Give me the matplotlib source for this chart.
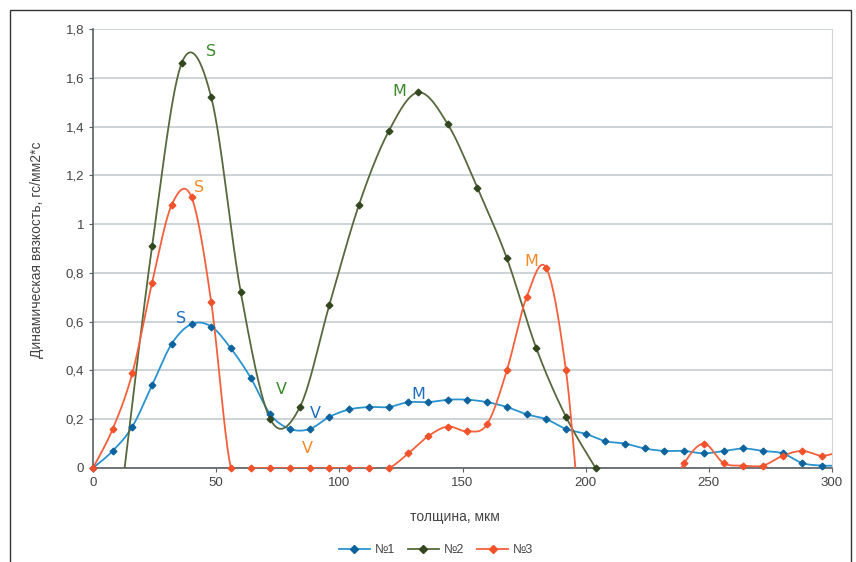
import numpy as np
import matplotlib
matplotlib.use("Agg")
import matplotlib.pyplot as plt
from matplotlib.lines import Line2D
from matplotlib.patches import Rectangle

plt.rcParams['font.family'] = ['Liberation Sans', 'DejaVu Sans']

# ---- data ----
x1 = [0, 8, 16, 24, 32, 40, 48, 56, 64, 72, 80, 88, 96, 104, 112, 120, 128, 136, 144,
      152, 160, 168, 176, 184, 192, 200, 208, 216, 224, 232, 240, 248, 256, 264, 272,
      280, 288, 296, 304]
y1 = [0, 0.07, 0.17, 0.34, 0.51, 0.59, 0.58, 0.49, 0.37, 0.22, 0.16, 0.16, 0.21, 0.24,
      0.25, 0.25, 0.27, 0.27, 0.28, 0.28, 0.27, 0.25, 0.22, 0.20, 0.16, 0.14, 0.11, 0.10,
      0.08, 0.07, 0.07, 0.06, 0.07, 0.08, 0.07, 0.06, 0.02, 0.01, 0.01]

x2 = [12, 24, 36, 48, 60, 72, 84, 96, 108, 120, 132, 144, 156, 168, 180, 192, 204]
y2 = [-0.07, 0.91, 1.66, 1.52, 0.72, 0.20, 0.25, 0.67, 1.08, 1.38, 1.54, 1.41, 1.15,
      0.86, 0.49, 0.21, 0]

x3 = [0, 8, 16, 24, 32, 40, 48, 56, 64, 72, 80, 88, 96, 104, 112, 120, 128, 136, 144,
      152, 160, 168, 176, 184, 192, 200, 208, 216, 224, 232, 240, 248, 256, 264, 272,
      280, 288, 296, 304]
y3 = [0, 0.16, 0.39, 0.76, 1.08, 1.11, 0.68, 0, 0, 0, 0, 0, 0, 0, 0, 0, 0.06, 0.13,
      0.17, 0.15, 0.18, 0.40, 0.70, 0.82, 0.40, -0.38, -0.30, -0.30, -0.30, -0.14, 0.02,
      0.10, 0.02, 0.01, 0.01, 0.05, 0.07, 0.05, 0.07]

series_names = ['№1', '№2', '№3']
line_colors = ['#2a93cf', '#56693c', '#f5603c']
marker_colors = ['#0d639e', '#33471f', '#f2512a']

labels = [
    ('S', 47.9, 1.706, '#3b8a2c'), ('S', 43.0, 1.152, '#f58a28'), ('S', 35.7, 0.611, '#1f6fbf'),
    ('V', 76.3, 0.32, '#3b8a2c'), ('V', 90.1, 0.225, '#1f6fbf'), ('V', 86.9, 0.078, '#f58a28'),
    ('M', 124.2, 1.542, '#3b8a2c'), ('M', 131.9, 0.303, '#1f6fbf'), ('M', 177.8, 0.845, '#f58a28'),
]


def smooth(xs, ys, n=30):
    P = np.column_stack([xs, ys]).astype(float)
    out = []
    for i in range(len(P) - 1):
        p0 = P[i - 1] if i > 0 else P[i]
        p1 = P[i]
        p2 = P[i + 1]
        p3 = P[i + 2] if i + 2 < len(P) else P[i + 1]
        c1 = p1 + (p2 - p0) / 6.0
        c2 = p2 - (p3 - p1) / 6.0
        t = np.linspace(0, 1, n)[:, None]
        seg = ((1 - t) ** 3) * p1 + 3 * ((1 - t) ** 2) * t * c1 + 3 * (1 - t) * t ** 2 * c2 + t ** 3 * p2
        out.append(seg if i == 0 else seg[1:])
    S = np.vstack(out)
    return S[:, 0], S[:, 1]


fig = plt.figure(figsize=(8.56, 5.62), dpi=100)
ax = fig.add_axes([93 / 856, 1 - 468 / 562, (832 - 93) / 856, (468 - 29) / 562])

data = [(x1, y1), (x2, y2), (x3, y3)]
for k, (xs, ys) in enumerate(data):
    sx, sy = smooth(xs, ys)
    ax.plot(sx, sy, color=line_colors[k], lw=1.3, zorder=3, clip_on=True)
    xs_a = np.array(xs, float)
    ys_a = np.array(ys, float)
    m = (ys_a >= 0) & (xs_a <= 300)
    ax.plot(xs_a[m], ys_a[m], ls='none', marker='D', ms=3.4, color=marker_colors[k],
            zorder=4, clip_on=False)

for t, lx, ly, c in labels:
    ax.text(lx, ly, t, color=c, fontsize=11.5, ha='center', va='center', zorder=5,
            family=['DejaVu Sans'])

ax.set_xlim(0, 300)
ax.set_ylim(0, 1.8)
ax.set_xticks(np.arange(0, 301, 50))
yt = np.round(np.arange(0, 1.81, 0.2), 1)
ax.set_yticks(yt)
ax.set_yticklabels([('%g' % v).replace('.', ',') for v in yt])
ax.grid(axis='y', color='#c9d1d5', lw=1.3)
ax.set_axisbelow(True)
ax.spines['top'].set_visible(False)
ax.spines['right'].set_color('#d0d4d6')
ax.spines['left'].set_color('#5a5f63')
ax.spines['bottom'].set_color('#5a5f63')
ax.spines['left'].set_linewidth(1.2)
ax.spines['bottom'].set_linewidth(1.2)
ax.tick_params(axis='both', colors='#5a5f63', labelcolor='#444444', labelsize=9.5,
               length=3, direction='out')

fig.text(455 / 856, 1 - 517 / 562, 'толщина, мкм', ha='center', va='center',
         fontsize=10, color='#444444')
fig.text(37 / 856, 1 - 250 / 562, 'Динамическая вязкость, гс/мм2*с', ha='center',
         va='center', rotation=90, fontsize=10, color='#444444')

handles = [Line2D([0], [0], color=line_colors[k], lw=1.3, marker='D', ms=4,
                  markerfacecolor=marker_colors[k], markeredgecolor=marker_colors[k])
           for k in range(3)]
fig.legend(handles, series_names, loc='center', bbox_to_anchor=(436 / 856, 1 - 550 / 562),
           ncol=3, frameon=False, fontsize=9, handlelength=2.5, columnspacing=1.0,
           handletextpad=0.4, labelcolor='#444444')

fig.patches.append(Rectangle((10 / 856, -0.05), (851 - 10) / 856, 1 - 10 / 562 + 0.05,
                             transform=fig.transFigure, fill=False, edgecolor='#333333',
                             lw=1.0))

fig.savefig('out.png', dpi=100)
